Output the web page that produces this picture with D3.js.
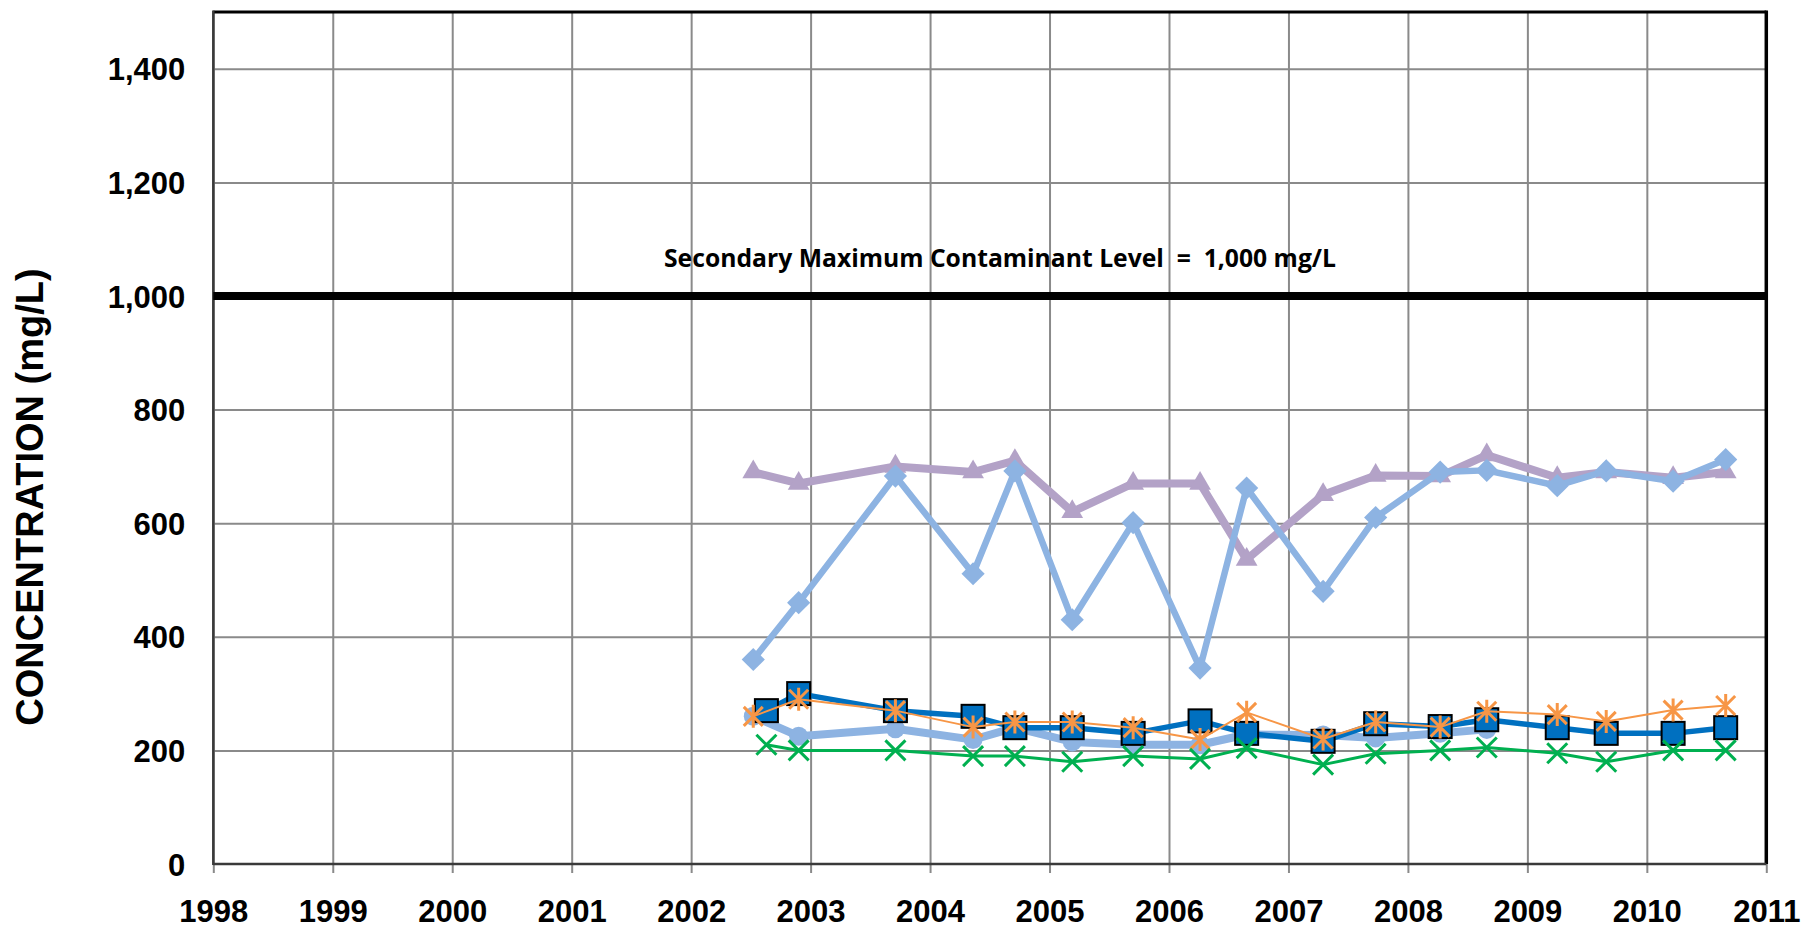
<!DOCTYPE html>
<html>
<head>
<meta charset="utf-8">
<script src="https://cdn.jsdelivr.net/npm/d3@7"></script>
<style>
  body { margin: 0; background: #ffffff; }
  svg { display: block; }
</style>
</head>
<body>
<svg id="chart" width="1803" height="929"></svg>
<script>
// ---------------- DATA ----------------
const yearTicks = [1998, 1999, 2000, 2001, 2002, 2003, 2004, 2005, 2006, 2007, 2008, 2009, 2010, 2011];
const concTicks = [0, 200, 400, 600, 800, 1000, 1200, 1400];
const smclValue = 1000;
const smclLabel = "Secondary Maximum Contaminant Level  =  1,000 mg/L";
const yTitle = "CONCENTRATION (mg/L)";

// sampling dates (decimal years)
const datesMain = [2002.52, 2002.90, 2003.71, 2004.36, 2004.71, 2005.19, 2005.70, 2006.26, 2006.65, 2007.29, 2007.73, 2008.27, 2008.66, 2009.25, 2009.66, 2010.22, 2010.66];
const datesAlt  = [2002.63, 2002.90, 2003.71, 2004.36, 2004.71, 2005.19, 2005.70, 2006.26, 2006.65, 2007.29, 2007.73, 2008.27, 2008.66, 2009.25, 2009.66, 2010.22, 2010.66];
const datesCircle = [2002.52, 2002.90, 2003.71, 2004.36, 2004.71, 2005.19, 2005.70, 2006.26, 2006.65, 2007.29, 2007.73, 2008.27, 2008.66];

const triangleValues = [690, 670, 700, 690, 710, 620, 670, 670, 536, 650, 684, 683, 720, 680, 690, 680, 690];
const diamondValues  = [360, 460, 683, 511, 692, 430, 601, 345, 662, 480, 610, 690, 693, 666, 692, 674, 712];
const circleValues   = [260, 225, 238, 219, 240, 215, 210, 210, 228, 227, 222, 230, 237];
const squareValues   = [270, 300, 270, 260, 240, 240, 230, 252, 230, 216, 247, 242, 254, 240, 230, 230, 240];
const starValues     = [260, 290, 270, 241, 250, 250, 240, 219, 267, 220, 250, 241, 269, 263, 251, 271, 279];
const crossValues    = [210, 200, 200, 190, 190, 180, 190, 185, 204, 175, 194, 200, 205, 195, 180, 200, 200];

// ---------------- LAYOUT ----------------
const svg = d3.select("#chart");
const plot = { left: 213.3, right: 1766.3, top: 12, bottom: 864 };

const x = d3.scaleLinear().domain([1998, 2011]).range([plot.left, plot.right]);
const y = d3.scaleLinear().domain([0, 1500]).range([plot.bottom, plot.top]);

const gridColor = "#8a8a8a";
const fontAxis = "'Liberation Sans', Arial, sans-serif";

// gridlines (horizontal)
svg.append("g")
  .attr("transform", `translate(${plot.left},0)`)
  .call(d3.axisLeft(y).tickValues(concTicks.filter(v => v > 0)).tickSize(-(plot.right - plot.left)).tickFormat(""))
  .call(g => g.select(".domain").remove())
  .call(g => g.selectAll("line").attr("stroke", gridColor).attr("stroke-width", 2));

// gridlines (vertical) + tick marks below axis
svg.append("g")
  .attr("transform", `translate(0,${plot.bottom + 9})`)
  .call(d3.axisBottom(x).tickValues(yearTicks).tickSize(-(plot.bottom + 9 - plot.top)).tickFormat(""))
  .call(g => g.select(".domain").remove())
  .call(g => g.selectAll("line").attr("stroke", gridColor).attr("stroke-width", 2));

// plot frame
svg.append("line").attr("x1", plot.left).attr("x2", plot.right).attr("y1", plot.top).attr("y2", plot.top)
  .attr("stroke", "#000").attr("stroke-width", 3);
svg.append("line").attr("x1", plot.right).attr("x2", plot.right).attr("y1", plot.top - 1.5).attr("y2", plot.bottom)
  .attr("stroke", "#000").attr("stroke-width", 3.5);
svg.append("line").attr("x1", plot.left).attr("x2", plot.left).attr("y1", plot.top - 1.5).attr("y2", plot.bottom + 1)
  .attr("stroke", "#3a3a3a").attr("stroke-width", 2.5);
svg.append("line").attr("x1", plot.left).attr("x2", plot.right).attr("y1", plot.bottom).attr("y2", plot.bottom)
  .attr("stroke", "#3a3a3a").attr("stroke-width", 2.5);

// Y tick labels
svg.append("g")
  .attr("transform", `translate(${plot.left},0)`)
  .call(d3.axisLeft(y).tickValues(concTicks).tickSize(0).tickPadding(28).tickFormat(d3.format(",")))
  .call(g => g.select(".domain").remove())
  .call(g => g.selectAll("text")
    .attr("font-family", fontAxis).attr("font-weight", "bold").attr("font-size", 31)
    .attr("fill", "#000").attr("dy", "0.36em"));

// X tick labels
svg.append("g")
  .attr("transform", `translate(0,${plot.bottom})`)
  .call(d3.axisBottom(x).tickValues(yearTicks).tickSize(0).tickPadding(0).tickFormat(d3.format("d")))
  .call(g => g.select(".domain").remove())
  .call(g => g.selectAll("text")
    .attr("font-family", fontAxis).attr("font-weight", "bold").attr("font-size", 31)
    .attr("fill", "#000").attr("y", 58).attr("dy", 0));

// Y title
svg.append("text")
  .attr("transform", "translate(43,497) rotate(-90)")
  .attr("text-anchor", "middle")
  .attr("font-family", fontAxis).attr("font-weight", "bold").attr("font-size", 38)
  .attr("fill", "#000")
  .text(yTitle);

// SMCL line
svg.append("line")
  .attr("x1", plot.left).attr("x2", plot.right)
  .attr("y1", y(smclValue)).attr("y2", y(smclValue))
  .attr("stroke", "#000").attr("stroke-width", 8);

svg.append("text")
  .attr("x", 664).attr("y", 267)
  .attr("font-family", "'Open Sans', 'Noto Sans', sans-serif").attr("font-weight", "bold")
  .attr("font-size", 25.5)
  .attr("textLength", 672).attr("lengthAdjust", "spacingAndGlyphs")
  .style("white-space", "pre")
  .attr("fill", "#000")
  .text(smclLabel);

// ---------------- SERIES ----------------
const series = [
  { dates: datesMain,   values: triangleValues, color: "#b3a2c7", width: 8,   marker: "triangle" },
  { dates: datesMain,   values: diamondValues,  color: "#8db3e2", width: 6.5, marker: "diamond" },
  { dates: datesCircle, values: circleValues,   color: "#8db3e2", width: 8,   marker: "circle" },
  { dates: datesAlt,    values: squareValues,   color: "#0070c0", width: 5.5, marker: "square" },
  { dates: datesMain,   values: starValues,     color: "#f79646", width: 2,   marker: "star" },
  { dates: datesAlt,    values: crossValues,    color: "#00b050", width: 3,   marker: "cross" }
];

const line = d3.line().x(d => x(d.t)).y(d => y(d.v));

series.forEach(s => {
  const pts = s.values.map((v, i) => ({ t: s.dates[i], v }));
  const g = svg.append("g");
  g.append("path").datum(pts)
    .attr("d", line).attr("fill", "none")
    .attr("stroke", s.color).attr("stroke-width", s.width)
    .attr("stroke-linejoin", "round");

  const m = g.selectAll("g.m").data(pts).join("g")
    .attr("transform", d => `translate(${x(d.t)},${y(d.v)})`);

  if (s.marker === "triangle") {
    m.append("path").attr("d", d3.symbol(d3.symbolTriangle, 205)).attr("fill", s.color);
  } else if (s.marker === "diamond") {
    m.append("rect").attr("x", -8.2).attr("y", -8.2).attr("width", 16.4).attr("height", 16.4)
      .attr("transform", "rotate(45)").attr("fill", s.color);
  } else if (s.marker === "circle") {
    m.append("circle").attr("r", 9.5).attr("fill", s.color);
  } else if (s.marker === "square") {
    m.append("rect").attr("x", -11.5).attr("y", -11.5).attr("width", 23).attr("height", 23)
      .attr("fill", s.color).attr("stroke", "#000").attr("stroke-width", 2);
  } else if (s.marker === "star") {
    m.append("path").attr("d", "M-9.5,-9.5L9.5,9.5M-9.5,9.5L9.5,-9.5M0,-11.5L0,11.5")
      .attr("stroke", s.color).attr("stroke-width", 3).attr("fill", "none");
  } else if (s.marker === "cross") {
    m.append("path").attr("d", "M-10,-10L10,10M-10,10L10,-10")
      .attr("stroke", s.color).attr("stroke-width", 3).attr("fill", "none");
  }
});
</script>
</body>
</html>
